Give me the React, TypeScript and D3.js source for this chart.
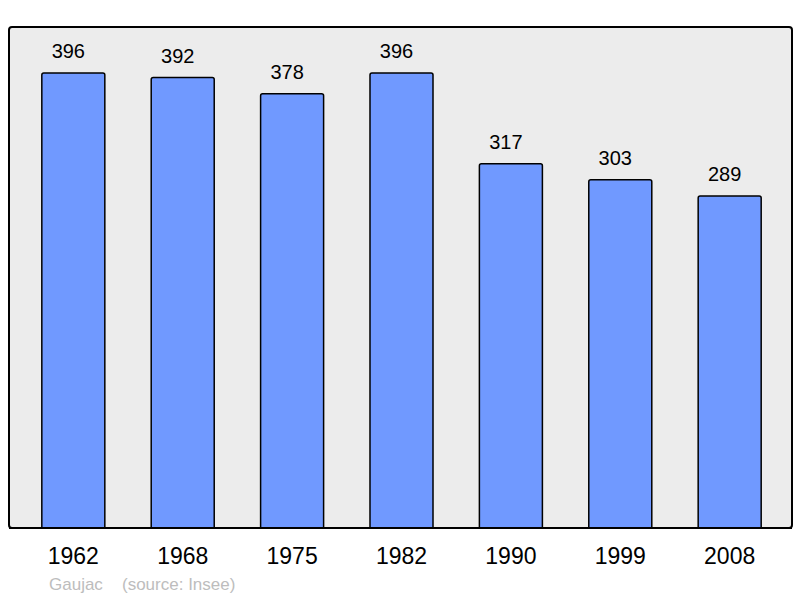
import React from "react";
import * as d3 from "d3";

const years = ["1962", "1968", "1975", "1982", "1990", "1999", "2008"];
const population = [396, 392, 378, 396, 317, 303, 289];
const commune = "Gaujac";
const source = "(source: Insee)";

const App = () => {
    const width = 800;
    const height = 598;
    const panel = {left: 9, top: 27, right: 792, bottom: 528};

    const xScale = d3
        .scaleBand()
        .domain(years)
        .range([9, 794])
        .paddingInner(0.424)
        .paddingOuter(0.3);

    const yScale = d3
        .scaleLinear()
        .domain([0, 396 * (panel.bottom - panel.top) / 455])
        .range([panel.bottom, panel.top]);

    const font = "'Liberation Sans', Arial, sans-serif";

    return (
        <svg width={width} height={height} style={{position: "absolute", left: 0, top: 0}}>
            <rect x={0} y={0} width={width} height={height} fill="#ffffff"/>
            <rect
                x={panel.left}
                y={panel.top}
                width={panel.right - panel.left}
                height={panel.bottom - panel.top}
                rx={3}
                fill="#ececec"
                stroke="#000"
                strokeWidth={2}
            />
            {years.map((year, i) => {
                const x = xScale(year)!;
                const y = yScale(population[i]);
                const cx = x + xScale.bandwidth() / 2;
                return (
                    <g key={year}>
                        <path
                            d={`M${x},${panel.bottom}V${y + 2}q0,-2 2,-2H${x + xScale.bandwidth() - 2}q2,0 2,2V${panel.bottom}`}
                            fill="#7099ff"
                            stroke="#000"
                            strokeWidth={1.5}
                        />
                        {/* the value labels sit a little left of the bar centre */}
                        <text
                            x={cx - 5}
                            y={y - 15}
                            textAnchor="middle"
                            fontFamily={font}
                            fontSize={20}
                            fill="#000"
                        >
                            {population[i]}
                        </text>
                        <text
                            x={cx}
                            y={564}
                            textAnchor="middle"
                            fontFamily={font}
                            fontSize={23}
                            fill="#000"
                        >
                            {year}
                        </text>
                    </g>
                );
            })}
            <line x1={panel.left} x2={panel.right} y1={panel.bottom} y2={panel.bottom} stroke="#000" strokeWidth={2}/>
            <text x={49} y={590} fontFamily={font} fontSize={17} fill="#bdbdbd">{commune}</text>
            <text x={122} y={590} fontFamily={font} fontSize={17} fill="#bdbdbd">{source}</text>
        </svg>
    );
};

export default App;
